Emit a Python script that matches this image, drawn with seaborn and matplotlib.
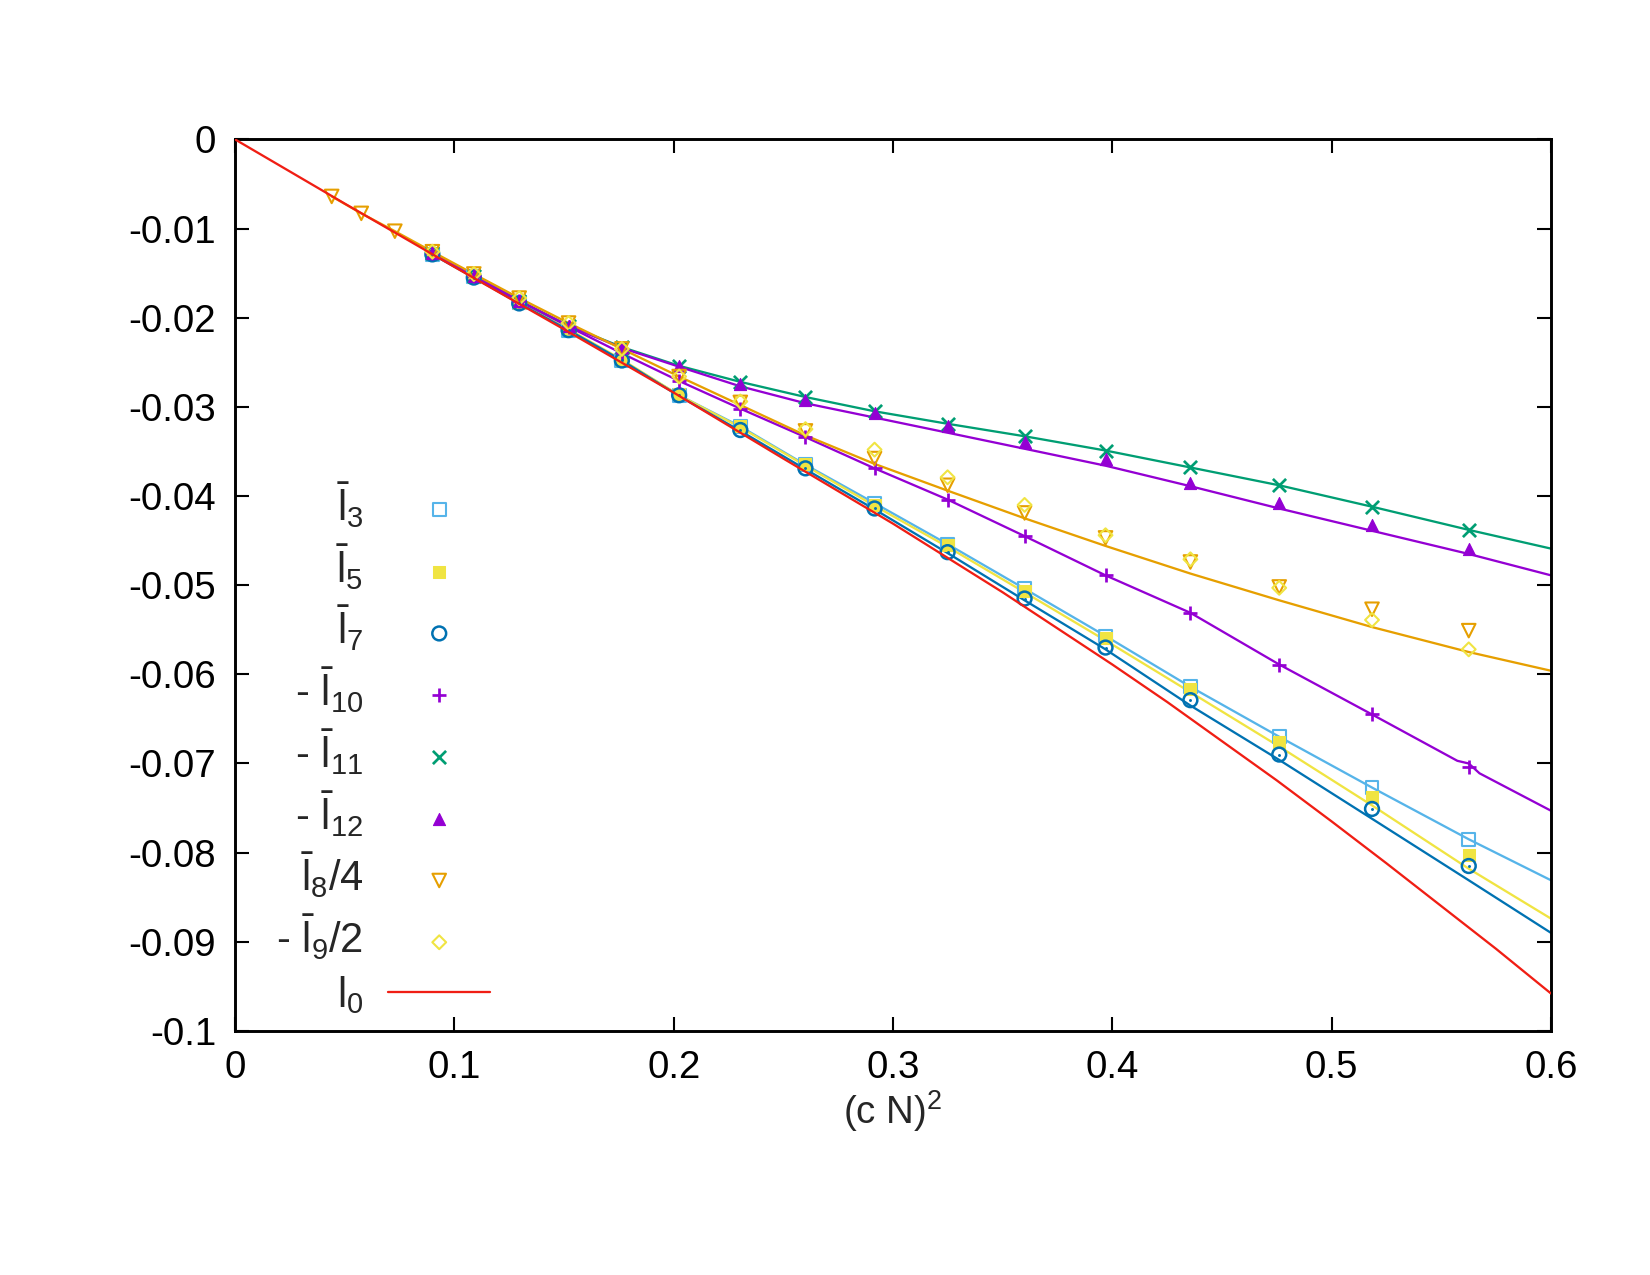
import matplotlib
matplotlib.use("Agg")
import matplotlib.pyplot as plt
import seaborn as sns

# (c N)^2 for the sampled sizes
x_all = [0.0441, 0.0576, 0.0729, 0.0900, 0.1089, 0.1296, 0.1521, 0.1764, 0.2025,
         0.2304, 0.2601, 0.2916, 0.3249, 0.3600, 0.3969, 0.4356, 0.4761, 0.5184, 0.5625]
x_pts = x_all[3:]
x_line = x_pts + [0.6]

# data points
l3 = [-0.0129, -0.0154, -0.0183, -0.0214, -0.0248, -0.0287, -0.0322, -0.0365,
      -0.0408, -0.0454, -0.0504, -0.0557, -0.0614, -0.0670, -0.0727, -0.0785]
l5 = [-0.0128, -0.0154, -0.0183, -0.0213, -0.0247, -0.0286, -0.0322, -0.0364,
      -0.0410, -0.0455, -0.0506, -0.0559, -0.0616, -0.0676, -0.0738, -0.0803]
l7 = [-0.0129, -0.0155, -0.0184, -0.0214, -0.0248, -0.0287, -0.0326, -0.0369,
      -0.0414, -0.0463, -0.0515, -0.0570, -0.0629, -0.0690, -0.0751, -0.0815]
l10 = [-0.0127, -0.0153, -0.0181, -0.0210, -0.0240, -0.0271, -0.0302, -0.0334,
       -0.0369, -0.0404, -0.0445, -0.0489, -0.0531, -0.0589, -0.0645, -0.0704]
l11 = [-0.0127, -0.0153, -0.0181, -0.0209, -0.0233, -0.0254, -0.0272, -0.0289,
       -0.0305, -0.0319, -0.0333, -0.0349, -0.0368, -0.0388, -0.0412, -0.0438]
l12 = [-0.0127, -0.0153, -0.0181, -0.0209, -0.0233, -0.0254, -0.0274, -0.0292,
       -0.0307, -0.0322, -0.0339, -0.0359, -0.0385, -0.0408, -0.0433, -0.0460]
l8 = [-0.0064, -0.0083, -0.0103, -0.0126, -0.0151, -0.0178, -0.0206, -0.0235,
      -0.0266, -0.0295, -0.0327, -0.0358, -0.0388, -0.0419, -0.0447, -0.0474,
      -0.0502, -0.0527, -0.0551]
l9 = [-0.0126, -0.0151, -0.0178, -0.0206, -0.0235, -0.0266, -0.0294, -0.0325,
      -0.0348, -0.0379, -0.0410, -0.0444, -0.0471, -0.0503, -0.0539, -0.0572]

# curves
l3_line = l3 + [-0.0831]
l5_line = [-0.0128, -0.0154, -0.0183, -0.0213, -0.0247, -0.0287, -0.0323, -0.0366,
           -0.0411, -0.0457, -0.0508, -0.0562, -0.0620, -0.0681, -0.0747, -0.0818, -0.0874]
l7_line = [-0.0129, -0.0155, -0.0184, -0.0214, -0.0248, -0.0288, -0.0327, -0.0370,
           -0.0415, -0.0464, -0.0517, -0.0572, -0.0635, -0.0696, -0.0762, -0.0831, -0.0890]
x10_line = [0.0900, 0.1089, 0.1296, 0.1521, 0.1764, 0.2025, 0.2304, 0.2601, 0.2916,
            0.3249, 0.3600, 0.3969, 0.4356, 0.4761, 0.5184, 0.5573, 0.5625, 0.5674, 0.6]
l10_line = [-0.0127, -0.0153, -0.0181, -0.0210, -0.0240, -0.0271, -0.0302, -0.0334,
            -0.0369, -0.0404, -0.0445, -0.0489, -0.0531, -0.0589, -0.0645, -0.0697,
            -0.0700, -0.0711, -0.0753]
l11_line = l11 + [-0.0459]
l12_line = [-0.0127, -0.0153, -0.0181, -0.0209, -0.0234, -0.0255, -0.0277, -0.0296,
            -0.0312, -0.0329, -0.0347, -0.0366, -0.0389, -0.0414, -0.0439, -0.0465, -0.0489]
x8_line = x_all + [0.6]
l8_line = [-0.0064, -0.0083, -0.0103, -0.0126, -0.0151, -0.0178, -0.0206, -0.0235,
           -0.0266, -0.0298, -0.0332, -0.0364, -0.0394, -0.0425, -0.0456, -0.0487,
           -0.0517, -0.0547, -0.0575, -0.0596]
x0 = [0, 0.05, 0.1, 0.15, 0.2, 0.25, 0.3, 0.35, 0.4, 0.425, 0.45, 0.475, 0.5,
      0.525, 0.55, 0.575, 0.6]
l0 = [0, -0.0072, -0.0143, -0.0213, -0.0284, -0.0358, -0.0431, -0.0508, -0.0589,
      -0.0631, -0.0675, -0.0719, -0.0765, -0.0812, -0.0860, -0.0908, -0.0958]

x_ticks = [0, 0.1, 0.2, 0.3, 0.4, 0.5, 0.6]
x_ticklabels = ['0', '0.1', '0.2', '0.3', '0.4', '0.5', '0.6']
y_ticks = [0, -0.01, -0.02, -0.03, -0.04, -0.05, -0.06, -0.07, -0.08, -0.09, -0.1]
y_ticklabels = ['0', '-0.01', '-0.02', '-0.03', '-0.04', '-0.05', '-0.06', '-0.07',
                '-0.08', '-0.09', '-0.1']

lblue, yellow, blue = '#56b4e9', '#f0e442', '#0072b2'
purple, green, orange, red = '#9400d3', '#009e73', '#e69f00', '#f01e14'

sns.set_style("ticks")
plt.rcParams['font.family'] = ['Liberation Sans', 'DejaVu Sans']
plt.rcParams['mathtext.fontset'] = 'custom'
plt.rcParams['mathtext.rm'] = 'Liberation Sans'
plt.rcParams['mathtext.it'] = 'Liberation Sans'
plt.rcParams['mathtext.bf'] = 'Liberation Sans:bold'
plt.rcParams['axes.unicode_minus'] = False

fig = plt.figure(figsize=(11, 8.5), dpi=150)
ax = fig.add_axes([0.1424, 0.1914, 0.7976, 0.6993])

lw = 1.1
for xs, ys, c in [(x_line, l3_line, lblue), (x_line, l5_line, yellow),
                  (x_line, l7_line, blue), (x10_line, l10_line, purple),
                  (x_line, l11_line, green), (x_line, l12_line, purple),
                  (x8_line, l8_line, orange)]:
    sns.lineplot(x=xs, y=ys, color=c, lw=lw, sort=False, estimator=None, ax=ax, zorder=2)

ew = 1.0
sns.scatterplot(x=x_pts, y=l3, marker='s', s=38, color=lblue, facecolor='none',
                edgecolor=lblue, linewidth=ew, label=r'$\bar{l}_3$', ax=ax, zorder=3)
sns.scatterplot(x=x_pts, y=l5, marker='s', s=38, color=yellow, edgecolor=yellow,
                linewidth=0.5, label=r'$\bar{l}_5$', ax=ax, zorder=3)
sns.scatterplot(x=x_pts, y=l7, marker='o', s=44, color=blue, facecolor='none',
                edgecolor=blue, linewidth=ew * 1.2, label=r'$\bar{l}_7$', ax=ax, zorder=3)
sns.scatterplot(x=x_pts, y=l10, marker='+', s=48, color=purple, linewidth=ew * 1.3,
                label=r'- $\bar{l}_{10}$', ax=ax, zorder=3)
sns.scatterplot(x=x_pts, y=l11, marker='x', s=40, color=green, linewidth=ew * 1.3,
                label=r'- $\bar{l}_{11}$', ax=ax, zorder=3)
sns.scatterplot(x=x_pts, y=l12, marker='^', s=34, color=purple, edgecolor=purple,
                linewidth=0.5, label=r'- $\bar{l}_{12}$', ax=ax, zorder=3)
sns.scatterplot(x=x_all, y=l8, marker='v', s=42, color=orange, facecolor='none',
                edgecolor=orange, linewidth=ew, label=r'$\bar{l}_8$/4', ax=ax, zorder=3)
sns.scatterplot(x=x_pts, y=l9, marker='D', s=22, color=yellow, facecolor='none',
                edgecolor=yellow, linewidth=ew, label=r'- $\bar{l}_9$/2', ax=ax, zorder=3)
# centre dots of the open circles
sns.scatterplot(x=x_pts, y=l7, marker='o', s=2, color=blue, edgecolor=blue,
                linewidth=0, ax=ax, zorder=3)
sns.lineplot(x=x0, y=l0, color=red, lw=lw, sort=False, estimator=None,
             label=r'$l_0$', ax=ax, zorder=4)

ax.set_xlim(0, 0.6)
ax.set_ylim(-0.1, 0)
ax.set_xticks(x_ticks)
ax.set_xticklabels(x_ticklabels)
ax.set_yticks(y_ticks)
ax.set_yticklabels(y_ticklabels)
ax.tick_params(direction='in', top=True, right=True, length=6.5, width=1.0,
               labelsize=18.5, pad=9, color='black', labelcolor='black')
for sp in ax.spines.values():
    sp.set_visible(True)
    sp.set_linewidth(1.4)
    sp.set_color('black')
ax.set_xlabel('(c N)$^2$', fontsize=18.5, labelpad=1)
ax.set_ylabel('')

handles, labels = ax.get_legend_handles_labels()
ax.legend(handles, labels, loc='upper right', bbox_to_anchor=(0.194, 0.618),
          frameon=False, markerfirst=False, fontsize=20, borderpad=0,
          borderaxespad=0, handlelength=2.45, handletextpad=0.6, labelspacing=0.285)

fig.savefig('out.png', dpi=150)
